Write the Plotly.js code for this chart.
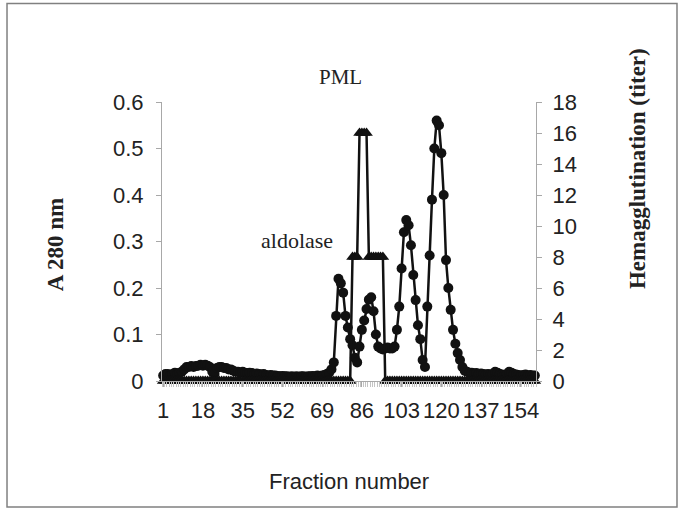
<!DOCTYPE html>
<html>
<head>
<meta charset="utf-8">
<script src="https://cdn.plot.ly/plotly-3.0.1.min.js"></script>
<style>html,body{margin:0;padding:0;background:#fff}#chart{width:684px;height:514px}</style>
</head>
<body>
<div id="chart"></div>
<script>
// Fraction numbers (category index 1..160)
const fractions = Array.from({length: 160}, (_, i) => i + 1);

// A 280 nm (left axis)
const a280 = [
  0.012, 0.015, 0.015, 0.012, 0.015, 0.018, 0.015, 0.018, 0.020, 0.025,
  0.030, 0.030, 0.032, 0.030, 0.032, 0.033, 0.035, 0.033, 0.035, 0.033,
  0.030, 0.020, 0.015, 0.028, 0.030, 0.030, 0.028, 0.028, 0.025, 0.025,
  0.022, 0.020, 0.020, 0.018, 0.020, 0.018, 0.017, 0.018, 0.017, 0.015,
  0.016, 0.015, 0.014, 0.015, 0.013, 0.012, 0.013, 0.012, 0.012, 0.011,
  0.010, 0.011, 0.010, 0.010, 0.009, 0.010, 0.009, 0.010, 0.009, 0.010,
  0.010, 0.009, 0.010, 0.010, 0.011, 0.010, 0.012, 0.011, 0.012, 0.013,
  0.015, 0.018, 0.025, 0.040, 0.140, 0.220, 0.210, 0.190, 0.140, 0.115,
  0.090, 0.077, 0.050, 0.040, 0.074, 0.110, 0.130, 0.155, 0.175, 0.180,
  0.150, 0.100, 0.074, 0.070, 0.068, 0.070, 0.072, 0.070, 0.070, 0.074,
  0.110, 0.160, 0.242, 0.320, 0.346, 0.335, 0.292, 0.228, 0.174, 0.120,
  0.090, 0.045, 0.030, 0.160, 0.270, 0.390, 0.500, 0.560, 0.550, 0.490,
  0.400, 0.260, 0.200, 0.153, 0.110, 0.080, 0.060, 0.045, 0.030, 0.022,
  0.020, 0.018, 0.018, 0.016, 0.017, 0.015, 0.016, 0.015, 0.014, 0.015,
  0.014, 0.015, 0.020, 0.018, 0.015, 0.014, 0.013, 0.015, 0.020, 0.018,
  0.015, 0.014, 0.013, 0.012, 0.013, 0.014, 0.012, 0.013, 0.012, 0.012
];

// Hemagglutination titer (right axis)
const titer = [
  0, 0, 0, 0, 0, 0, 0, 0, 0, 0,
  0, 0, 0, 0, 0, 0, 0, 0, 0, 0,
  0, 0, 0, 0, 0, 0, 0, 0, 0, 0,
  0, 0, 0, 0, 0, 0, 0, 0, 0, 0,
  0, 0, 0, 0, 0, 0, 0, 0, 0, 0,
  0, 0, 0, 0, 0, 0, 0, 0, 0, 0,
  0, 0, 0, 0, 0, 0, 0, 0, 0, 0,
  0, 0, 0, 0, 0, 0, 0, 0, 0, 0,
  0, 8, 8, 8, 16, 16, 16, 16, 8, 8,
  8, 8, 8, 8, 8, 0, 0, 0, 0, 0,
  0, 0, 0, 0, 0, 0, 0, 0, 0, 0,
  0, 0, 0, 0, 0, 0, 0, 0, 0, 0,
  0, 0, 0, 0, 0, 0, 0, 0, 0, 0,
  0, 0, 0, 0, 0, 0, 0, 0, 0, 0,
  0, 0, 0, 0, 0, 0, 0, 0, 0, 0,
  0, 0, 0, 0, 0, 0, 0, 0, 0, 0
];

const xTickVals = [1, 18, 35, 52, 69, 86, 103, 120, 137, 154];
const leftTicks = [0, 0.1, 0.2, 0.3, 0.4, 0.5, 0.6];
const leftTickText = ['0', '0.1', '0.2', '0.3', '0.4', '0.5', '0.6'];
const rightTicks = [0, 2, 4, 6, 8, 10, 12, 14, 16, 18];

const sans = 'Liberation Sans, Arial, sans-serif';
const serif = 'Liberation Serif, Times New Roman, serif';
const axisGrey = '#a8a8a8';

const traces = [
  {
    x: fractions, y: titer, yaxis: 'y2', type: 'scatter', mode: 'lines+markers',
    line: {color: '#111', width: 2.5},
    marker: {symbol: 'triangle-up', size: 11, color: '#111'},
    cliponaxis: false, hoverinfo: 'skip'
  },
  {
    x: fractions, y: a280, type: 'scatter', mode: 'lines+markers',
    line: {color: '#111', width: 2.5},
    marker: {symbol: 'circle', size: 10, color: '#111'},
    cliponaxis: false, hoverinfo: 'skip'
  }
];

const layout = {
  width: 684, height: 514,
  margin: {l: 162, r: 148, t: 102, b: 133, pad: 0},
  paper_bgcolor: '#fff', plot_bgcolor: '#fff',
  showlegend: false,
  font: {family: sans, size: 21, color: '#222'},
  xaxis: {
    range: [0.5, 160.5], tickmode: 'array', tickvals: xTickVals,
    ticktext: xTickVals.map(String), tickangle: 0,
    showgrid: false, zeroline: false, showline: true, linecolor: axisGrey, linewidth: 1,
    ticks: 'outside', ticklen: 5, tickcolor: axisGrey,
    minor: {tickmode: 'linear', tick0: 0.5, dtick: 1, ticks: 'outside', ticklen: 5, tickcolor: '#c4c4c4'},
    ticklabelstandoff: 5, tickfont: {family: sans, size: 22, color: '#222'}
  },
  xaxis2: {
    range: [0.5, 160.5], overlaying: 'x', anchor: 'y', tickmode: 'linear', tick0: 0.5, dtick: 1,
    ticks: 'inside', ticklen: 5, tickcolor: '#c4c4c4', showticklabels: false,
    showgrid: false, zeroline: false, showline: false
  },
  yaxis: {
    range: [0, 0.6], tickmode: 'array', tickvals: leftTicks, ticktext: leftTickText,
    showgrid: false, zeroline: false, showline: true, linecolor: axisGrey, linewidth: 1,
    ticks: 'outside', ticklen: 5, tickcolor: axisGrey, ticklabelstandoff: 8,
    tickfont: {family: sans, size: 22, color: '#222'}
  },
  yaxis2: {
    range: [0, 18], overlaying: 'y', side: 'right', anchor: 'x', tickmode: 'array', tickvals: rightTicks,
    showgrid: false, zeroline: false, showline: true, linecolor: axisGrey, linewidth: 1,
    ticks: 'outside', ticklen: 5, tickcolor: axisGrey, ticklabelstandoff: 6,
    tickfont: {family: sans, size: 22, color: '#222'}
  },
  yaxis3: {
    range: [0, 0.6], overlaying: 'y', side: 'left', anchor: 'x', tickmode: 'array', tickvals: leftTicks,
    ticks: 'inside', ticklen: 5, tickcolor: axisGrey, showticklabels: false,
    showgrid: false, zeroline: false, showline: false
  },
  yaxis4: {
    range: [0, 18], overlaying: 'y', side: 'right', anchor: 'x', tickmode: 'array', tickvals: rightTicks,
    ticks: 'inside', ticklen: 5, tickcolor: axisGrey, showticklabels: false,
    showgrid: false, zeroline: false, showline: false
  },
  shapes: [
    {type: 'rect', xref: 'paper', yref: 'paper', x0: -0.4144, x1: 1.377, y0: -0.4516, y1: 1.353,
     line: {color: '#808080', width: 1.5}, fillcolor: 'rgba(0,0,0,0)', layer: 'below'}
  ],
  annotations: [
    {text: 'PML', xref: 'paper', yref: 'paper', x: 0.476, y: 1.0896, showarrow: false,
     xanchor: 'center', yanchor: 'middle', font: {family: serif, size: 21, color: '#222'}},
    {text: 'aldolase', xref: 'paper', yref: 'paper', x: 0.361, y: 0.502, showarrow: false,
     xanchor: 'center', yanchor: 'middle', font: {family: serif, size: 22, color: '#222'}},
    {text: '<b>A 280 nm</b>', xref: 'paper', yref: 'paper', x: -0.286, y: 0.487, showarrow: false,
     textangle: -90, xanchor: 'center', yanchor: 'middle', font: {family: serif, size: 23, color: '#222'}},
    {text: '<b>Hemagglutination (titer)</b>', xref: 'paper', yref: 'paper', x: 1.270, y: 0.763, showarrow: false,
     textangle: -90, xanchor: 'center', yanchor: 'middle', font: {family: serif, size: 23, color: '#222'}},
    {text: 'Fraction number', xref: 'paper', yref: 'paper', x: 0.5, y: -0.362, showarrow: false,
     xanchor: 'center', yanchor: 'middle', font: {family: sans, size: 22, color: '#222'}}
  ]
};

Plotly.newPlot('chart', traces, layout, {staticPlot: true, displayModeBar: false});
</script>
</body>
</html>
